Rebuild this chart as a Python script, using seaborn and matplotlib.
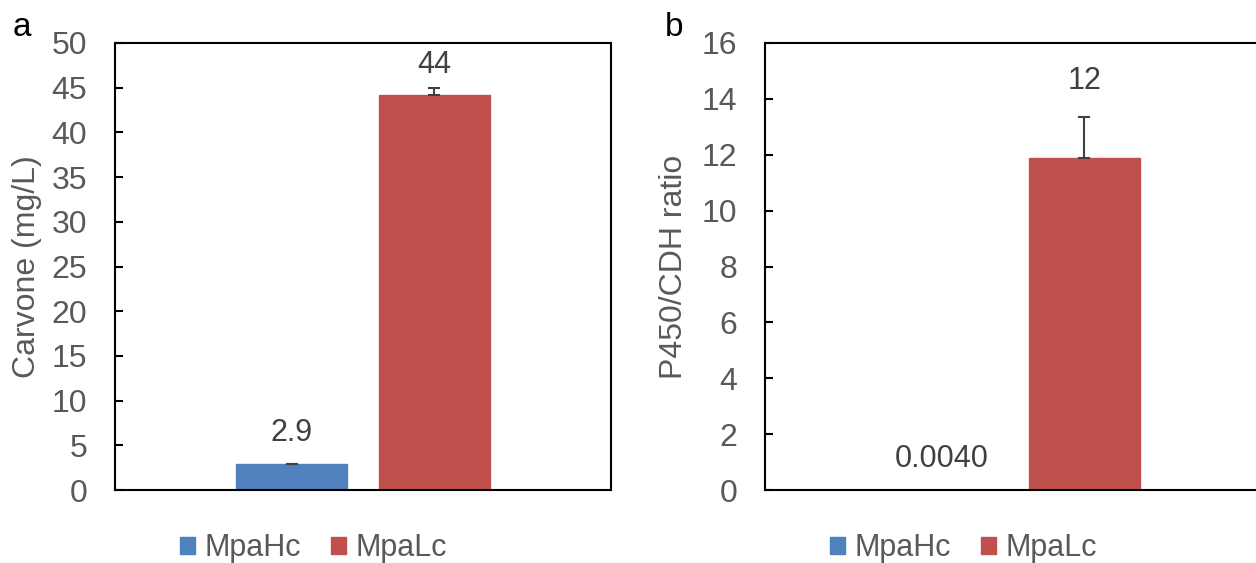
import matplotlib
matplotlib.use("Agg")
import matplotlib.pyplot as plt
import seaborn as sns
import pandas as pd

# Measured values
strains = ["MpaHc", "MpaLc"]
carvone_mean = [2.9, 44.2]
carvone_err = [0.05, 0.8]
ratio_mean = [0.0040, 11.88]
ratio_err = [0.0, 1.46]
carvone_labels = ["2.9", "44"]
ratio_labels = ["0.0040", "12"]

colors = ["#4F81BD", "#C0504D"]
palette = dict(zip(strains, colors))

sns.set_theme(style="white")
plt.rcParams["font.family"] = ["Liberation Sans", "DejaVu Sans"]

fig = plt.figure(figsize=(12.56, 5.63), dpi=100)
ax_a = fig.add_axes([115 / 1256, 1 - 490 / 563, 496 / 1256, 447 / 563])
ax_b = fig.add_axes([765 / 1256, 1 - 490 / 563, 496 / 1256, 447 / 563])

grey = "#595959"


def draw_panel(ax, means, errs, labels, ylim, step, ylabel,
               label_offsets, labelpad):
    df = pd.DataFrame({"group": ["g", "g"], "strain": strains, "value": means})
    sns.barplot(data=df, x="group", y="value", hue="strain", palette=palette,
                hue_order=strains, width=0.576, gap=0.222, errorbar=None,
                saturation=1, ax=ax, legend=False)
    centers = []
    for patch in ax.patches:
        patch.set_edgecolor(patch.get_facecolor())
        patch.set_linewidth(1.0)
        centers.append(patch.get_x() + patch.get_width() / 2)
    for cx, m, e in zip(centers, means, errs):
        if e > 0:
            ax.errorbar([cx], [m], yerr=[[0], [e]], fmt="none",
                        ecolor="#404040", elinewidth=1.5, capsize=4,
                        capthick=1.5, zorder=3)
    # value labels, one offset (points) per bar in series order
    for cx, m, e, lab, off in zip(centers, means, errs, labels, label_offsets):
        ax.annotate(lab, xy=(cx, m + e), xytext=(0, off), textcoords="offset points",
                    ha="center", va="center", fontsize=22, color="#404040")
    ax.set_xlim(-0.5, 0.5)
    ax.set_ylim(*ylim)
    ax.set_yticks(range(ylim[0], ylim[1] + 1, step))
    ax.tick_params(axis="y", direction="in", length=6, width=1.5, color="black",
                   labelsize=23, labelcolor=grey, pad=20, left=True)
    ax.tick_params(axis="x", bottom=False, labelbottom=False)
    ax.set_xlabel("")
    ax.set_ylabel(ylabel, fontsize=23, color=grey, labelpad=labelpad)
    for s in ax.spines.values():
        s.set_color("black")
        s.set_linewidth(1.5)
    handles = [plt.Rectangle((0, 0), 1, 1, color=c) for c in colors]
    ax.legend(handles, strains, loc="center", bbox_to_anchor=(0.40, -0.13),
              ncol=2, frameon=False, fontsize=22, handlelength=0.5,
              handleheight=0.5, handletextpad=0.3, columnspacing=1.0,
              labelcolor=grey)


draw_panel(ax_a, carvone_mean, carvone_err, carvone_labels, (0, 50), 5,
           "Carvone (mg/L)", [22, 16], 7)
draw_panel(ax_b, ratio_mean, ratio_err, ratio_labels, (0, 16), 2,
           "P450/CDH ratio", [22, 26.5], 9)

# Panel letters
fig.text(22 / 1256, 1 - 28 / 563, "a", fontsize=24, color="black",
         ha="center", va="center")
fig.text(674 / 1256, 1 - 28 / 563, "b", fontsize=24, color="black",
         ha="center", va="center")

fig.savefig("out.png", dpi=100)
